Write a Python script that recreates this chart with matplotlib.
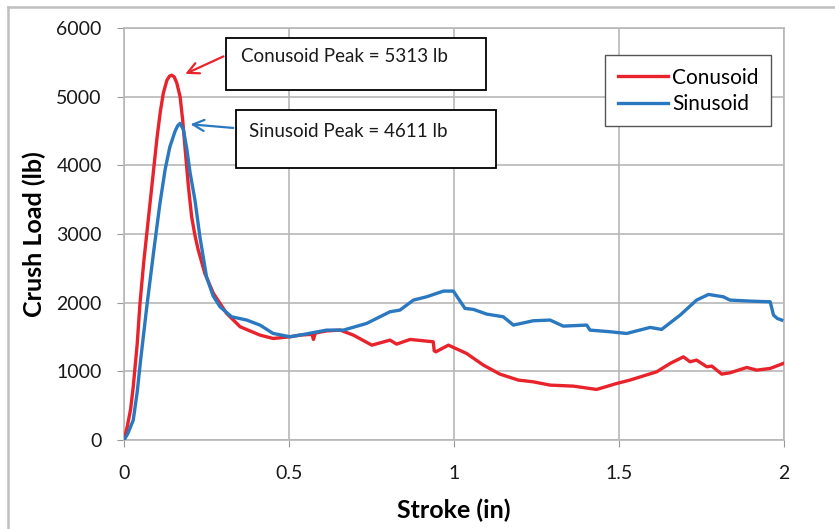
import matplotlib.pyplot as plt
from matplotlib.patches import Rectangle
from matplotlib.lines import Line2D

plt.rcParams['font.family'] = ['Lato', 'DejaVu Sans']

# Conusoid curve (stroke in, load lb)
con_x = [0.0, 0.01, 0.02, 0.028, 0.04, 0.0485, 0.06, 0.07, 0.08, 0.09, 0.10, 0.11,
         0.119, 0.13, 0.138, 0.1445, 0.152, 0.16, 0.170, 0.178, 0.185, 0.195, 0.205, 0.215,
         0.225, 0.245, 0.271, 0.311, 0.352, 0.412, 0.452, 0.503, 0.533, 0.570, 0.574, 0.580,
         0.614, 0.655, 0.695, 0.751, 0.806, 0.826, 0.867, 0.937, 0.940, 0.945, 0.983, 1.038,
         1.089, 1.139, 1.195, 1.240, 1.291, 1.362, 1.432, 1.493, 1.533, 1.614, 1.655, 1.695,
         1.715, 1.735, 1.766, 1.781, 1.811, 1.836, 1.887, 1.917, 1.958, 1.998]
con_y = [0, 200, 450, 776, 1400, 1995, 2600, 3050, 3500, 3950, 4400, 4780,
         5048, 5240, 5300, 5313, 5290, 5200, 5000, 4650, 4250, 3700, 3252, 2980,
         2767, 2427, 2136, 1845, 1650, 1529, 1480, 1505, 1529, 1540, 1466, 1560,
         1590, 1602, 1529, 1383, 1456, 1398, 1466, 1432, 1300, 1286, 1383, 1262,
         1092, 961, 874, 849, 801, 786, 738, 825, 874, 995, 1117, 1213,
         1141, 1165, 1068, 1078, 961, 980, 1058, 1019, 1044, 1117]

# Sinusoid curve
sin_x = [0.0, 0.012, 0.028, 0.04, 0.05, 0.069, 0.09, 0.109, 0.125, 0.139, 0.155, 0.163,
         0.170, 0.180, 0.190, 0.200, 0.215, 0.230, 0.25, 0.27, 0.291, 0.326, 0.372, 0.412,
         0.452, 0.503, 0.533, 0.614, 0.665, 0.735, 0.806, 0.836, 0.877, 0.917, 0.968, 0.998,
         1.033, 1.059, 1.099, 1.149, 1.18, 1.24, 1.291, 1.331, 1.402, 1.412, 1.473, 1.523,
         1.594, 1.629, 1.685, 1.735, 1.771, 1.816, 1.836, 1.897, 1.958, 1.968, 1.980, 1.993]
sin_y = [0, 100, 291, 700, 1150, 1941, 2750, 3450, 3950, 4271, 4500, 4580,
         4611, 4520, 4250, 3900, 3495, 2960, 2378, 2100, 1941, 1796, 1748, 1675,
         1553, 1505, 1529, 1602, 1602, 1699, 1869, 1893, 2039, 2087, 2170, 2170,
         1918, 1903, 1835, 1796, 1675, 1738, 1748, 1660, 1675, 1602, 1578, 1553,
         1641, 1612, 1820, 2039, 2121, 2087, 2039, 2024, 2014, 1820, 1770, 1748]

red = '#E8232B'
blue = '#2A78C0'
grid_c = '#b8b8b8'

fig = plt.figure(figsize=(8.35, 5.29), dpi=100)
ax = fig.add_axes([0.1485, 0.168, 0.7905, 0.779])

ax.plot(con_x, con_y, color=red, lw=2.4, label='Conusoid', zorder=3)
ax.plot(sin_x, sin_y, color=blue, lw=2.4, label='Sinusoid', zorder=3)

ax.set_xlim(0, 2)
ax.set_ylim(0, 6000)
ax.set_xticks([0, 0.5, 1, 1.5, 2])
ax.set_xticklabels(['0', '0.5', '1', '1.5', '2'])
ax.set_yticks(range(0, 6001, 1000))
ax.grid(True, color=grid_c, lw=1.2)
ax.set_axisbelow(True)
for s in ax.spines.values():
    s.set_color(grid_c)
    s.set_linewidth(1.2)
ax.tick_params(labelsize=14, length=5, color='#999999', labelcolor='#1a1a1a')
ax.tick_params(axis='y', pad=11)
ax.tick_params(axis='x', pad=13)

ax.set_xlabel('Stroke (in)', fontsize=18, fontweight='bold', va='center')
ax.set_ylabel('Crush Load (lb)', fontsize=18, fontweight='bold', va='center')
ax.xaxis.set_label_coords(0.5, -0.170)
ax.yaxis.set_label_coords(-0.136, 0.5)

# annotation boxes
ax.add_patch(Rectangle((0.1545, 0.8495), 0.394, 0.126, transform=ax.transAxes,
                       facecolor='white', edgecolor='black', lw=1.3, zorder=5))
ax.text(0.177, 0.930, 'Conusoid Peak = 5313 lb', transform=ax.transAxes,
        fontsize=13.5, va='center', ha='left', zorder=6, color='#1a1a1a')
ax.annotate('', xy=(0.178, 5315), xytext=(0.1545, 0.934), textcoords='axes fraction',
            arrowprops=dict(arrowstyle='->', color=red, lw=1.6, mutation_scale=20), zorder=6)

ax.add_patch(Rectangle((0.1697, 0.660), 0.394, 0.141, transform=ax.transAxes,
                       facecolor='white', edgecolor='black', lw=1.3, zorder=5))
ax.text(0.189, 0.750, 'Sinusoid Peak = 4611 lb', transform=ax.transAxes,
        fontsize=13.5, va='center', ha='left', zorder=6, color='#1a1a1a')
ax.annotate('', xy=(0.193, 4602), xytext=(0.1697, 0.757), textcoords='axes fraction',
            arrowprops=dict(arrowstyle='->', color=blue, lw=1.6, mutation_scale=20), zorder=6)

leg = ax.legend(loc='upper right', bbox_to_anchor=(0.980, 0.934), fontsize=15,
                fancybox=False, edgecolor='#555555', framealpha=1,
                handlelength=2.4, borderpad=0.6, labelspacing=0.3, handletextpad=0.2,
                borderaxespad=0)
leg.get_frame().set_linewidth(1.0)

# outer chart frame (only top and left edges are visible in the crop)
fig.add_artist(Line2D([8 / 835, 1], [1 - 7 / 529, 1 - 7 / 529], color='#c0c0c0', lw=1.8,
                      transform=fig.transFigure))
fig.add_artist(Line2D([8 / 835, 8 / 835], [0, 1 - 7 / 529], color='#c0c0c0', lw=1.8,
                      transform=fig.transFigure))

fig.savefig('out.png', dpi=100)
